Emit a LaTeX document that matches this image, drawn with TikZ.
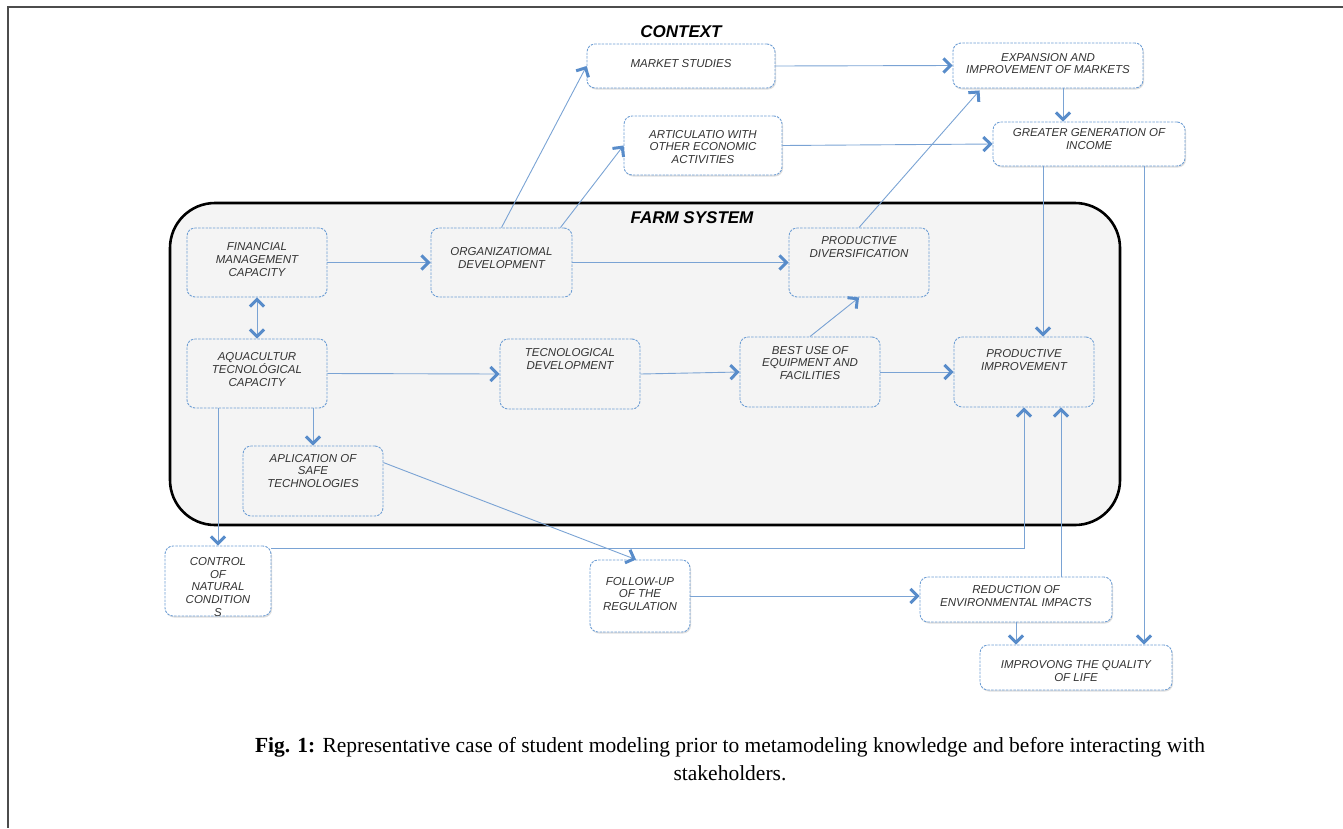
\documentclass[tikz,border=0pt]{standalone}
\usepackage{fontspec}
\setmainfont{Liberation Serif}
\newfontfamily\boxfont{Liberation Sans}
\usepackage{tikz}
\usetikzlibrary{arrows.meta,shadows}

\definecolor{linkblue}{RGB}{122,163,212}
\definecolor{headblue}{RGB}{88,140,202}
\definecolor{dashblue}{RGB}{110,158,212}
\definecolor{farmgray}{RGB}{244,244,244}
\definecolor{txtgray}{RGB}{51,51,51}

\begin{document}
\begin{tikzpicture}[x=1pt,y=-1pt,
	>={Straight Barb[length=7pt,width=14pt,line width=3pt,color=headblue]},
	box/.style={draw=dashblue,dash pattern=on 2.5pt off 1.2pt,line width=0.9pt,rounded corners=8pt,inner sep=0pt},
	outbox/.style={box,fill=white,drop shadow={shadow xshift=1pt,shadow yshift=-1.5pt,fill=black!25,opacity=.5}},
	txt/.style={font=\boxfont\itshape\fontsize{11.5}{12.8}\selectfont,text=txtgray,align=center,inner sep=0pt},
	title/.style={font=\boxfont\bfseries\itshape\fontsize{17}{19}\selectfont},
	link/.style={draw=linkblue,line width=0.9pt,->}]
	\useasboundingbox (0,0) rectangle (1343,828);
	\draw[line width=1.5pt,black!70] (1343,7) -- (8,7) -- (8,828);

	\node[draw,line width=2.6pt,fill=farmgray,rounded corners=45pt,minimum width=950,minimum height=322] (farm) at (645,364) {};
	\node[title] (ctx) at (681,32) {CONTEXT};
	\node[title] (farmT) at (692,218) {FARM SYSTEM};

	\node[outbox,minimum width=188,minimum height=44] (mkt) at (681,66) {};
	\node[txt] (mktT) at (681,64) {MARKET STUDIES};
	\node[outbox,minimum width=190,minimum height=45] (exp) at (1048,65.5) {};
	\node[txt] (expT) at (1048,63.5) {EXPANSION AND\\IMPROVEMENT OF MARKETS};
	\node[outbox,minimum width=192,minimum height=44] (grt) at (1089,144) {};
	\node[txt] (grtT) at (1089,139) {GREATER GENERATION OF\\INCOME};
	\node[outbox,minimum width=158,minimum height=59] (art) at (703,145.5) {};
	\node[txt] (artT) at (703,147) {ARTICULATIO WITH\\OTHER ECONOMIC\\ACTIVITIES};

	\node[box,minimum width=140,minimum height=69] (fin) at (257,262.5) {};
	\node[txt] (finT) at (257,259.5) {FINANCIAL\\MANAGEMENT\\CAPACITY};
	\node[box,minimum width=141,minimum height=69] (org) at (501.5,262.5) {};
	\node[txt] (orgT) at (501.5,258) {ORGANIZATIOMAL\\DEVELOPMENT};
	\node[box,minimum width=140,minimum height=69] (pdiv) at (859,262.5) {};
	\node[txt] (pdivT) at (859,247) {PRODUCTIVE\\DIVERSIFICATION};
	\node[box,minimum width=140,minimum height=69] (aqua) at (257,373.5) {};
	\node[txt] (aquaT) at (257,369.5) {AQUACULTUR\\TECNOL\'OGICAL\\CAPACITY};
	\node[box,minimum width=140,minimum height=70] (tec) at (570,374) {};
	\node[txt] (tecT) at (570,359) {TECNOLOGICAL\\DEVELOPMENT};
	\node[box,minimum width=140,minimum height=70] (best) at (810,372) {};
	\node[txt] (bestT) at (810,363) {BEST USE OF\\EQUIPMENT AND\\FACILITIES};
	\node[box,minimum width=140,minimum height=70] (pimp) at (1024,372) {};
	\node[txt] (pimpT) at (1024,360) {PRODUCTIVE\\IMPROVEMENT};
	\node[box,minimum width=140,minimum height=70] (apl) at (313,481) {};
	\node[txt] (aplT) at (313,471) {APLICATION OF\\SAFE\\TECHNOLOGIES};

	\node[outbox,minimum width=106,minimum height=70] (ctl) at (218,581) {};
	\node[txt] (ctlT) at (218,587) {CONTROL\\OF\\NATURAL\\CONDITION\\S};
	\node[outbox,minimum width=100,minimum height=72] (fol) at (640,596) {};
	\node[txt] (folT) at (640,594) {FOLLOW-UP\\OF THE\\REGULATION};
	\node[outbox,minimum width=192,minimum height=45] (red) at (1016,599.5) {};
	\node[txt] (redT) at (1016,596) {REDUCTION OF\\ENVIRONMENTAL IMPACTS};
	\node[outbox,minimum width=192,minimum height=45] (iql) at (1076,667.5) {};
	\node[txt] (iqlT) at (1076,671) {IMPROVONG THE QUALITY\\OF LIFE};

	\draw[link] (fin.east) -- (org.west);
	\draw[link,<->] (fin.south) -- (aqua.north);
	\draw[link] (org.east) -- (pdiv.west);
	\draw[link] (org.north) -- (mkt.west);
	\draw[link] ([xshift=-12pt]org.north east) -- (art.west);
	\draw[link] (mkt.east) -- (exp.west);
	\draw[link] (art.east) -- (grt.west);
	\draw[link] ([xshift=15pt]exp.south) -- ([xshift=15pt]exp.south |- grt.north);
	\draw[link] (pdiv.north) -- ([xshift=27pt,yshift=-2pt]exp.south west);
	\draw[link] ([xshift=-46pt]grt.south) -- ([xshift=-46pt]grt.south |- pimp.north);
	\draw[link] ([xshift=55pt]grt.south) -- ([xshift=55pt]grt.south |- iql.north);
	\draw[link] (aqua.east) -- (tec.west);
	\draw[link] (tec.east) -- (best.west);
	\draw[link] (best.north) -- (pdiv.south);
	\draw[link] (best.east) -- (pimp.west);
	\draw[link] (apl.north |- aqua.south) -- (apl.north);
	\draw[link] (ctl.north |- aqua.south) -- (ctl.north);
	\draw[link] ([yshift=33pt]ctl.east) -| (pimp.south);
	\draw[link] ([yshift=-17pt]apl.north east) -- ([xshift=-4pt]fol.north);
	\draw[link] (fol.east) -- (fol.east -| red.west);
	\draw[link] ([xshift=45pt]red.north) -- ([xshift=45pt]red.north |- pimp.south);
	\draw[link] (red.south) -- (red.south |- iql.north);

	\node[font=\fontsize{21.5}{28}\selectfont,align=center] (cap) at (730,759) {\textbf{Fig. 1:} Representative case of student modeling prior to metamodeling knowledge and before interacting with\\stakeholders.};
\end{tikzpicture}
\end{document}
